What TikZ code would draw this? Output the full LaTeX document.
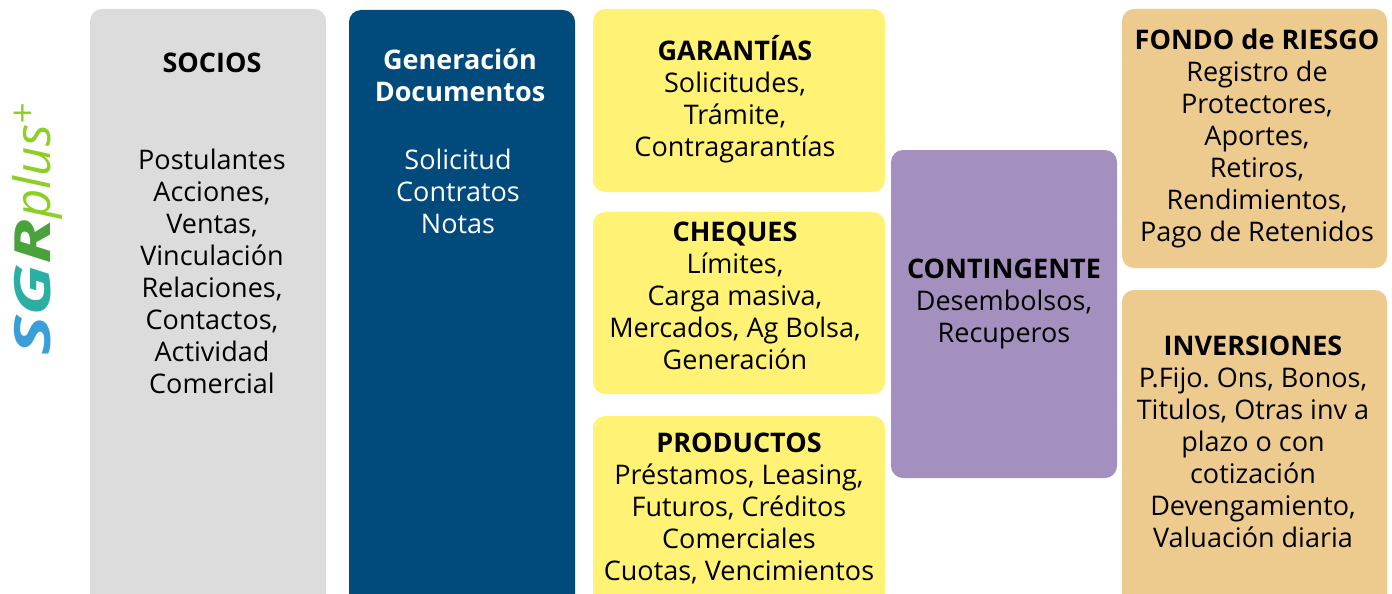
\documentclass[tikz,border=0pt]{standalone}
\usepackage{fontspec}
\setmainfont{Open Sans}
\frenchspacing
\definecolor{cgray}{HTML}{DCDCDC}
\definecolor{cnavy}{HTML}{004A7C}
\definecolor{cyel}{HTML}{FFF275}
\definecolor{cpur}{HTML}{A390BE}
\definecolor{ctan}{HTML}{EDCB8E}
\definecolor{lgS}{HTML}{3A9FD8}
\definecolor{lgG}{HTML}{2BAFA2}
\definecolor{lgR}{HTML}{48A43A}
\definecolor{lgP}{HTML}{8DCF24}
\begin{document}
\begin{tikzpicture}[x=1pt,y=-1pt,
  panel/.style={rounded corners=12pt},
  txt/.style={align=center,inner sep=0pt,font=\fontsize{27}{32}\selectfont,text=black},
  wtxt/.style={txt,text=white}]
\useasboundingbox (0,0) rectangle (1392,594);
\clip (0,0) rectangle (1392,594);
\fill[white] (0,0) rectangle (1392,594);
% panels
\fill[cgray,panel] (90,9) rectangle (326,620);
\fill[cnavy,panel] (349,10) rectangle (575,620);
\fill[cyel,panel] (593,9) rectangle (885,192);
\fill[cyel,panel] (593,212) rectangle (885,394);
\fill[cyel,panel] (593,416) rectangle (885,620);
\fill[cpur,panel] (891,150) rectangle (1117,478);
\fill[ctan,panel] (1122,9) rectangle (1387,268);
\fill[ctan,panel] (1122,290) rectangle (1387,620);
% logo
\node[rotate=90,inner sep=0pt,anchor=base west] (logo) at (50,356)
  {\fontsize{50}{50}\selectfont\itshape\scalebox{1.5}[1]{\bfseries\textcolor{lgS}{S}\textcolor{lgG}{G}\textcolor{lgR}{R}}\scalebox{1.02}[1]{\textcolor{lgP}{plus\raisebox{15pt}{\fontsize{36}{36}\selectfont+}}}};
% texts
\node[txt,font=\fontsize{27}{32}\selectfont\bfseries] (socT) at (212,63) {SOCIOS};
\node[txt] (socB) at (212,271) {Postulantes\\Acciones,\\Ventas,\\Vinculación\\Relaciones,\\Contactos,\\Actividad\\Comercial};
\node[wtxt,font=\fontsize{27}{32}\selectfont\bfseries] (genT) at (460,75) {Generación\\Documentos};
\node[wtxt] (genB) at (458,191) {Solicitud\\Contratos\\Notas};
\node[txt] (gar) at (735,99) {\textbf{GARANTÍAS}\\Solicitudes,\\Trámite,\\Contragarantías};
\node[txt] (che) at (735,296) {\textbf{CHEQUES}\\Límites,\\Carga masiva,\\Mercados, Ag Bolsa,\\Generación};
\node[txt] (pro) at (739,508) {\textbf{PRODUCTOS}\\Préstamos, Leasing,\\Futuros, Créditos\\Comerciales\\Cuotas, Vencimientos};
\node[txt] (con) at (1004,304) {\textbf{CONTINGENTE}\\Desembolsos,\\Recuperos};
\node[txt] (fon) at (1257,138) {\textbf{FONDO de RIESGO}\\Registro de\\Protectores,\\Aportes,\\Retiros,\\Rendimientos,\\Pago de Retenidos};
\node[txt] (inv) at (1253,442) {\textbf{INVERSIONES}\\P.Fijo. Ons, Bonos,\\Titulos, Otras inv a\\plazo o con\\cotización\\Devengamiento,\\Valuación diaria};
\end{tikzpicture}
\end{document}
